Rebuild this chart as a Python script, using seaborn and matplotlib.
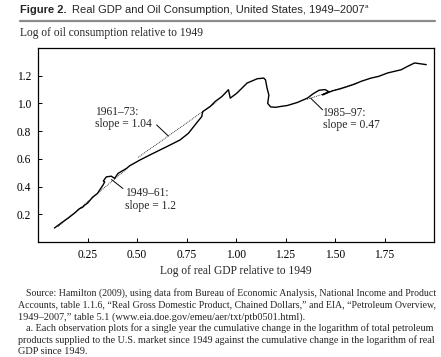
import matplotlib
matplotlib.use("Agg")
import matplotlib.pyplot as plt
import seaborn as sns
import pandas as pd

# ---- data ----
gdp_log = [0.083, 0.12, 0.159, 0.19, 0.21, 0.225, 0.235, 0.25, 0.277, 0.30,
           0.311, 0.328, 0.337, 0.330, 0.345, 0.37, 0.387, 0.404, 0.447, 0.463,
           0.514, 0.565, 0.65, 0.717, 0.76, 0.793, 0.827, 0.832, 0.87, 0.895,
           0.929, 0.962, 0.971, 1.005, 1.056, 1.107, 1.14, 1.149, 1.157, 1.166,
           1.16, 1.175, 1.20, 1.225, 1.259, 1.31, 1.36, 1.39, 1.419, 1.45,
           1.468, 1.437, 1.487, 1.525, 1.563, 1.60, 1.631, 1.682, 1.72, 1.766,
           1.834, 1.87, 1.902, 1.961]
oil_log = [0.101, 0.14, 0.180, 0.215, 0.241, 0.25, 0.265, 0.28, 0.325, 0.35,
           0.374, 0.410, 0.434, 0.44, 0.470, 0.475, 0.459, 0.495, 0.531, 0.55,
           0.591, 0.628, 0.688, 0.736, 0.785, 0.845, 0.905, 0.941, 0.978, 1.014,
           1.05, 1.099, 1.038, 1.075, 1.147, 1.178, 1.183, 1.17, 1.11, 1.06,
           1.00, 0.975, 0.972, 0.978, 0.985, 1.007, 1.038, 1.07, 1.095, 1.10,
           1.085, 1.062, 1.091, 1.105, 1.122, 1.14, 1.159, 1.183, 1.195, 1.22,
           1.243, 1.27, 1.292, 1.28]

# fitted-slope segments (dotted)
fit_labels = ["1949–61:\nslope = 1.2", "1961–73:\nslope = 1.04", "1985–97:\nslope = 0.47"]
fit_x = [[0.10, 0.45], [0.506, 0.90], [1.36, 1.62]]
fit_y = [[0.11, 0.53], [0.611, 1.01], [1.03, 1.152]]
# annotation text anchor and leader line (data coords)
label_xy = [(0.438, 0.395), (0.289, 0.985), (1.437, 0.975)]
leader_x = [[0.429, 0.371], [0.599, 0.658], [1.437, 1.377]]
leader_y = [[0.386, 0.451], [0.845, 0.765], [0.954, 1.038]]

x_ticks = [0.25, 0.50, 0.75, 1.00, 1.25, 1.50, 1.75]
x_tick_labels = ["0.25", "0.50", "0.75", "1.00", "1.25", "1.50", "1.75"]
y_ticks = [0.2, 0.4, 0.6, 0.8, 1.0, 1.2]
y_tick_labels = ["0.2", "0.4", "0.6", "0.8", "1.0", "1.2"]

title_bold = "Figure 2."
title_rest = "Real GDP and Oil Consumption, United States, 1949–2007"
y_title = "Log of oil consumption relative to 1949"
x_title = "Log of real GDP relative to 1949"
source_lines = [
    ("Source: Hamilton (2009), using data from Bureau of Economic Analysis, National Income and Product", True, True),
    ("Accounts, table 1.1.6, “Real Gross Domestic Product, Chained Dollars,” and EIA, “Petroleum Overview,", False, True),
    ("1949–2007,” table 5.1 (www.eia.doe.gov/emeu/aer/txt/ptb0501.html).", False, False),
    ("a. Each observation plots for a single year the cumulative change in the logarithm of total petroleum", True, True),
    ("products supplied to the U.S. market since 1949 against the cumulative change in the logarithm of real", False, True),
    ("GDP since 1949.", False, False),
]

# ---- style ----
sns.set_style("ticks")
plt.rcParams['font.family'] = ['Liberation Serif', 'DejaVu Serif']
plt.rcParams['axes.edgecolor'] = 'black'
plt.rcParams['axes.linewidth'] = 0.9

W, H = 441, 357
fig = plt.figure(figsize=(W / 100, H / 100), dpi=100)
fig.patch.set_facecolor('white')
renderer = fig.canvas.get_renderer()

ax = fig.add_axes([38 / W, 1 - 242 / H, (434 - 38) / W, (242 - 48) / H])
df = pd.DataFrame({"gdp": gdp_log, "oil": oil_log})
sns.lineplot(data=df, x="gdp", y="oil", sort=False, estimator=None,
             color="black", linewidth=1.0, ax=ax)
for fx, fy in zip(fit_x, fit_y):
    sns.lineplot(x=fx, y=fy, sort=False, estimator=None, color="black",
                 linewidth=0.6, linestyle=(0, (1, 1.2)), ax=ax)
for (tx, ty), lx, ly, lab in zip(label_xy, leader_x, leader_y, fit_labels):
    sns.lineplot(x=lx, y=ly, sort=False, estimator=None, color="black",
                 linewidth=0.7, ax=ax)
    ax.text(tx, ty, lab, ha="left", va="top", fontsize=8.3, linespacing=1.05)

ax.set_xlim(0, 2.0)
ax.set_ylim(0, 1.4)
ax.set_xticks(x_ticks)
ax.set_xticklabels(x_tick_labels)
ax.set_yticks(y_ticks)
ax.set_yticklabels(y_tick_labels)
ax.tick_params(direction="in", length=3, width=0.7, labelsize=8.3, pad=5, colors="black")
ax.set_xlabel(x_title, fontsize=8.3, labelpad=3)
ax.set_ylabel("")
for s in ax.spines.values():
    s.set_visible(True)
    s.set_color("black")

# y-axis title above plot
fig.text(20 / W, 1 - 36 / H, y_title, ha="left", va="baseline", fontsize=8.3)

# figure title
tfont = ['Liberation Sans', 'DejaVu Sans']
t1 = fig.text(20 / W, 1 - 13 / H, title_bold, ha="left", va="baseline",
              fontsize=8.0, fontweight="bold", family=tfont)
w1 = t1.get_window_extent(renderer).width
t2 = fig.text((20 + w1 + 5) / W, 1 - 13 / H, title_rest, ha="left", va="baseline",
              fontsize=8.0, family=tfont)
w2 = t2.get_window_extent(renderer).width
fig.text((20 + w1 + 5 + w2 + 1) / W, 1 - 8.5 / H, "a", ha="left", va="baseline",
         fontsize=4.5, family=tfont)
# grey rule
fig.add_artist(plt.Line2D([20 / W, 435 / W], [1 - 21 / H, 1 - 21 / H],
                          color="#8a8a8a", linewidth=1.6))

# source notes (justified by padding inter-word gaps with hair spaces)
FS = 7.4
HAIR = "\u200a"


def text_width(s, fs):
    t = fig.text(0, 0, s, fontsize=fs)
    w = t.get_window_extent(renderer).width
    t.remove()
    return w


hair_w = text_width("a" + HAIR * 10 + "a", FS) - text_width("aa", FS)
hair_w = max(hair_w / 10.0, 0.3)

baselines = [296, 307.7, 319.3, 331, 342.7, 354.3]
for (line, indent, justify), yb in zip(source_lines, baselines):
    x0 = 26.5 if indent else 18.5
    x1 = 434
    fs = FS
    out = line
    if justify:
        nat = text_width(line, fs)
        target = x1 - x0
        if nat > target:
            fs = fs * target / nat
        else:
            words = line.split(" ")
            gaps = len(words) - 1
            n_total = (target - nat) / hair_w
            pieces = [words[0]]
            done = 0
            for i in range(1, len(words)):
                want = round(n_total * i / gaps)
                pieces.append(" " + HAIR * (want - done) + words[i])
                done = want
            out = "".join(pieces)
    fig.text(x0 / W, 1 - yb / H, out, ha="left", va="baseline", fontsize=fs)

fig.savefig("out.png", dpi=100, facecolor="white")
